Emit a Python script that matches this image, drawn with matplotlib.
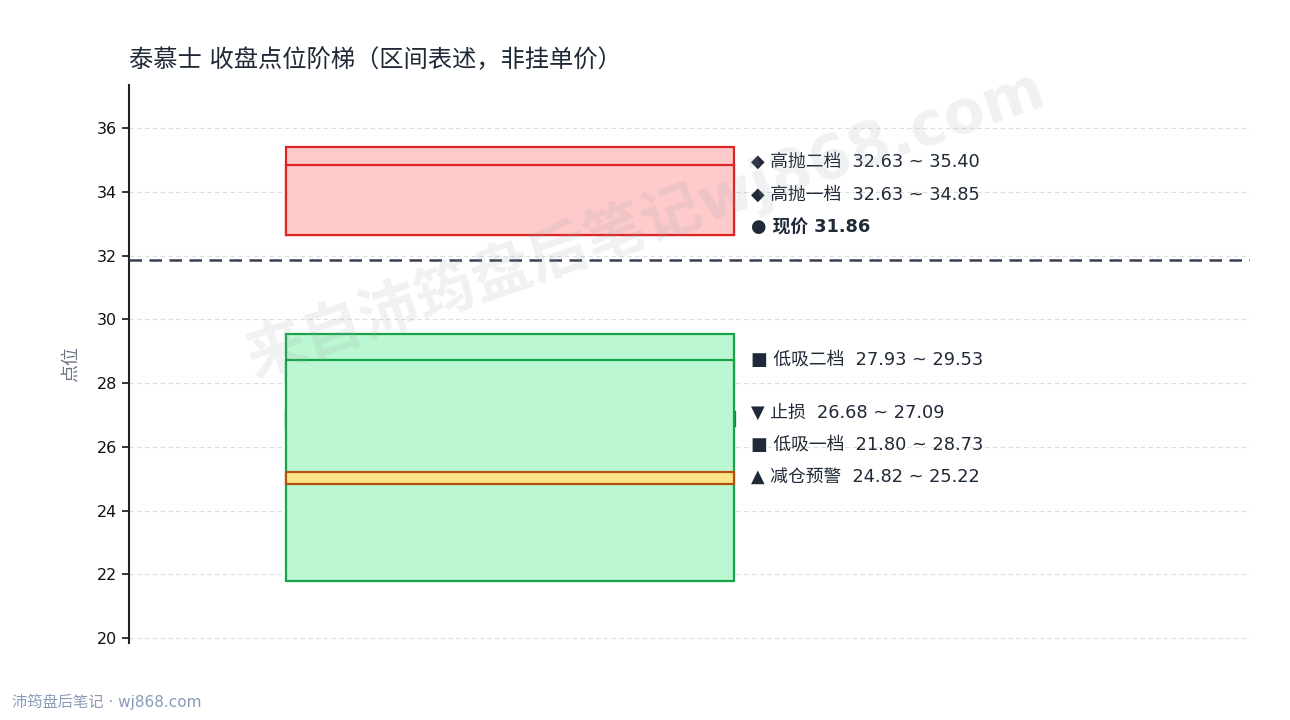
import matplotlib.pyplot as plt
from matplotlib.patches import Rectangle

plt.rcParams['font.family'] = ['DejaVu Sans', 'Noto Sans CJK SC']

title = "泰慕士 收盘点位阶梯（区间表述，非挂单价）"
price = 31.86

# zone name, marker, low, high
zone_names = ["止损", "高抛二档", "低吸二档", "高抛一档", "低吸一档", "减仓预警"]
zone_marks = ["▼", "◆", "■", "◆", "■", "▲"]
zone_low = [26.68, 32.63, 27.93, 32.63, 21.80, 24.82]
zone_high = [27.09, 35.40, 29.53, 34.85, 28.73, 25.22]
zone_face = ["#fecaca", "#fecaca", "#bbf7d0", "#fecaca", "#bbf7d0", "#fde68a"]
zone_edge = ["#15803d", "#dc2626", "#16a34a", "#dc2626", "#16a34a", "#b45309"]

fig, ax = plt.subplots(figsize=(12.9, 7.2), dpi=100)
fig.subplots_adjust(left=0.1, right=0.969, top=0.882, bottom=0.107)

x0, w = 0.14, 0.40
for i in range(len(zone_names)):
    lw = 2.4 if zone_names[i] == "止损" else 1.6
    ax.add_patch(Rectangle((x0, zone_low[i]), w, zone_high[i] - zone_low[i],
                           facecolor=zone_face[i], edgecolor=zone_edge[i],
                           linewidth=lw, zorder=2 + i * 0.1))

ax.axhline(price, color="#374151", linestyle=(0, (5, 3)), linewidth=1.8, zorder=3)

# labels: anchored at zone middle, pushed up to avoid overlaps
labels = []
for i in range(len(zone_names)):
    txt = f"{zone_marks[i]} {zone_names[i]}  {zone_low[i]:.2f} ~ {zone_high[i]:.2f}"
    labels.append([(zone_low[i] + zone_high[i]) / 2, txt, "normal"])
gap = 1.03
labels.append([price + gap, f"● 现价 {price:.2f}", "bold"])
labels.sort(key=lambda r: r[0])
last = -1e9
for r in labels:
    if r[0] < last + gap:
        r[0] = last + gap
    last = r[0]
for y, txt, wt in labels:
    ax.text(0.555, y, txt, fontsize=12.8, color="#1f2937", fontweight=wt,
            va="center", ha="left", zorder=4)

ax.set_xlim(0, 1)
ax.set_ylim(19.85, 37.35)
ax.set_yticks(range(20, 37, 2))
ax.set_xticks([])
ax.tick_params(axis="y", labelsize=11.5, colors="#111111", length=5, width=1.2)
ax.grid(axis="y", color="#dddddd", linestyle=(0, (4, 3)), linewidth=0.8, zorder=0)
ax.set_axisbelow(True)
for s in ["top", "right", "bottom"]:
    ax.spines[s].set_visible(False)
ax.spines["left"].set_linewidth(1.5)
ax.spines["left"].set_color("#222222")

ax.set_ylabel("点位", fontsize=13, color="#6b7280", labelpad=12)
ax.set_title(title, loc="left", fontsize=17.5, color="#1f2937", pad=13)

fig.text(0.5, 0.69, "来自沛筠盘后笔记wj868.com", fontsize=43, color="#9ca3af",
         alpha=0.15, rotation=19, ha="center", va="center", fontweight="bold")
fig.text(0.009, 0.018, "沛筠盘后笔记 · wj868.com", fontsize=11, color="#8a9ab8")

fig.savefig("out.png", dpi=100)
